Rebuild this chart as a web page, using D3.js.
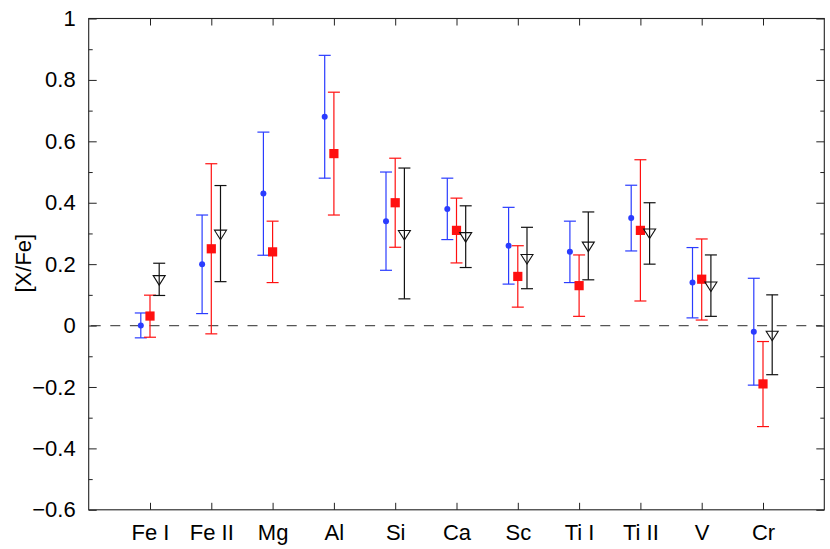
<!DOCTYPE html>
<html>
<head>
<meta charset="utf-8">
<script src="https://cdn.jsdelivr.net/npm/d3@7"></script>
<style>
  html, body { margin: 0; padding: 0; background: #fff; }
  svg text { font-family: "Liberation Sans", Arial, Helvetica, sans-serif; fill: #000; }
</style>
</head>
<body>
<svg id="chart" width="830" height="549"></svg>
<script>
// ---- data ----
const categories = ["Fe I", "Fe II", "Mg", "Al", "Si", "Ca", "Sc", "Ti I", "Ti II", "V", "Cr"];

// blue circles
const blueVal = [0.00, 0.20, 0.43, 0.68, 0.34, 0.38, 0.26, 0.24, 0.35, 0.14, -0.02];
const blueHi  = [0.041, 0.36, 0.63, 0.88, 0.50, 0.48, 0.385, 0.34, 0.457, 0.254, 0.154];
const blueLo  = [-0.04, 0.039, 0.229, 0.48, 0.18, 0.28, 0.135, 0.14, 0.243, 0.025, -0.194];

// red squares
const redVal = [0.031, 0.25, 0.24, 0.56, 0.40, 0.31, 0.16, 0.13, 0.31, 0.151, -0.19];
const redHi  = [0.099, 0.527, 0.34, 0.76, 0.545, 0.415, 0.26, 0.23, 0.54, 0.282, -0.052];
const redLo  = [-0.038, -0.027, 0.14, 0.36, 0.255, 0.204, 0.06, 0.03, 0.08, 0.018, -0.329];

// black open triangles (null = no measurement)
const blackVal = [0.148, 0.296, null, null, 0.295, 0.288, 0.217, 0.257, 0.30, 0.127, -0.033];
const blackHi  = [0.203, 0.456, null, null, 0.513, 0.39, 0.32, 0.37, 0.40, 0.23, 0.10];
const blackLo  = [0.098, 0.143, null, null, 0.087, 0.189, 0.12, 0.149, 0.20, 0.03, -0.16];

const yTicks = [-0.6, -0.4, -0.2, 0, 0.2, 0.4, 0.6, 0.8, 1];
const yMinorTicks = [-0.5, -0.3, -0.1, 0.1, 0.3, 0.5, 0.7, 0.9];

// ---- layout ----
const svg = d3.select("#chart");
const pLeft = 88.7, pRight = 824.3, pTop = 18.5, pBottom = 509.8;

const x = d3.scaleLinear().domain([0, categories.length + 1]).range([pLeft, pRight]);
const y = d3.scaleLinear().domain([-0.6, 1]).range([pBottom, pTop]);

const blueC = "#2a3cff", redC = "#ff1010", blackC = "#111";
const off = 0.15, capHalf = 6;

// zero dashed line
svg.append("line")
  .attr("x1", pLeft + 2).attr("x2", pRight - 2)
  .attr("y1", y(0)).attr("y2", y(0))
  .attr("stroke", "#555").attr("stroke-width", 1.3)
  .attr("stroke-dasharray", "10,9.6");

function errorBars(vals, his, los, dx, color, cls) {
  const idx = d3.range(vals.length).filter(i => vals[i] !== null);
  const g = svg.append("g").attr("class", cls);
  g.selectAll("line.v").data(idx).join("line").attr("class", "v")
    .attr("x1", i => x(i + 1 + dx)).attr("x2", i => x(i + 1 + dx))
    .attr("y1", i => y(his[i])).attr("y2", i => y(los[i]))
    .attr("stroke", color).attr("stroke-width", 1.2);
  g.selectAll("line.hi").data(idx).join("line").attr("class", "hi")
    .attr("x1", i => x(i + 1 + dx) - capHalf).attr("x2", i => x(i + 1 + dx) + capHalf)
    .attr("y1", i => y(his[i])).attr("y2", i => y(his[i]))
    .attr("stroke", color).attr("stroke-width", 1.2);
  g.selectAll("line.lo").data(idx).join("line").attr("class", "lo")
    .attr("x1", i => x(i + 1 + dx) - capHalf).attr("x2", i => x(i + 1 + dx) + capHalf)
    .attr("y1", i => y(los[i])).attr("y2", i => y(los[i]))
    .attr("stroke", color).attr("stroke-width", 1.2);
  return { g, idx };
}

// blue
const b = errorBars(blueVal, blueHi, blueLo, -off, blueC, "blue");
b.g.selectAll("circle").data(b.idx).join("circle")
  .attr("cx", i => x(i + 1 - off)).attr("cy", i => y(blueVal[i]))
  .attr("r", 3).attr("fill", blueC);

// red
const r = errorBars(redVal, redHi, redLo, 0, redC, "red");
r.g.selectAll("rect").data(r.idx).join("rect")
  .attr("x", i => x(i + 1) - 4.6).attr("y", i => y(redVal[i]) - 4.6)
  .attr("width", 9.2).attr("height", 9.2).attr("fill", redC);

// black
const k = errorBars(blackVal, blackHi, blackLo, off, blackC, "black");
k.g.selectAll("path.tri").data(k.idx).join("path").attr("class", "tri")
  .attr("d", i => {
    const cx = x(i + 1 + off), cy = y(blackVal[i]);
    return `M${cx - 6},${cy - 4.5}L${cx + 6},${cy - 4.5}L${cx},${cy + 5}Z`;
  })
  .attr("fill", "none").attr("stroke", blackC).attr("stroke-width", 1.1);

// axes box
const axisC = "#222";
svg.append("rect").attr("x", pLeft).attr("y", pTop)
  .attr("width", pRight - pLeft).attr("height", pBottom - pTop)
  .attr("fill", "none").attr("stroke", axisC).attr("stroke-width", 1.1);

const catIdx = d3.range(1, categories.length + 1);
// bottom axis
const xAxis = d3.axisBottom(x).tickValues(catIdx)
  .tickFormat(d => categories[d - 1]).tickSize(-7).tickPadding(20);
const gx = svg.append("g").attr("transform", `translate(0,${pBottom})`).call(xAxis);
gx.select(".domain").remove();
gx.selectAll(".tick line").attr("stroke", axisC);
gx.selectAll("text").attr("font-size", 22).attr("dy", "0.71em").attr("y", 14.5);

// top axis ticks
const gxt = svg.append("g").attr("transform", `translate(0,${pTop})`)
  .call(d3.axisTop(x).tickValues(catIdx).tickSize(-7).tickFormat(""));
gxt.select(".domain").remove();
gxt.selectAll(".tick line").attr("stroke", axisC);

// left axis
const yAxis = d3.axisLeft(y).tickValues(yTicks)
  .tickFormat(d => d === 0 ? "0" : d3.format("")(d).replace("-", "\u2212")).tickSize(-8).tickPadding(13);
const gy = svg.append("g").attr("transform", `translate(${pLeft},0)`).call(yAxis);
gy.select(".domain").remove();
gy.selectAll(".tick line").attr("stroke", axisC);
gy.selectAll("text").attr("font-size", 22);

const gym = svg.append("g").attr("transform", `translate(${pLeft},0)`)
  .call(d3.axisLeft(y).tickValues(yMinorTicks).tickSize(-4).tickFormat(""));
gym.select(".domain").remove();
gym.selectAll(".tick line").attr("stroke", axisC);

// right axis ticks
const gyr = svg.append("g").attr("transform", `translate(${pRight},0)`)
  .call(d3.axisRight(y).tickValues(yTicks).tickSize(-8).tickFormat(""));
gyr.select(".domain").remove();
gyr.selectAll(".tick line").attr("stroke", axisC);
const gyrm = svg.append("g").attr("transform", `translate(${pRight},0)`)
  .call(d3.axisRight(y).tickValues(yMinorTicks).tickSize(-4).tickFormat(""));
gyrm.select(".domain").remove();
gyrm.selectAll(".tick line").attr("stroke", axisC);

// y label
svg.append("text")
  .attr("transform", `translate(31,${(pTop + pBottom) / 2 - 1}) rotate(-90)`)
  .attr("text-anchor", "middle")
  .attr("font-size", 22)
  .text("[X/Fe]");
</script>
</body>
</html>
